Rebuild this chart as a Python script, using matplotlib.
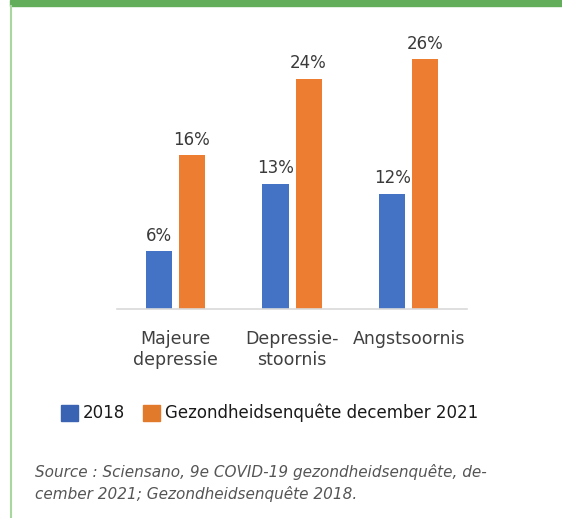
import numpy as np
import matplotlib.pyplot as plt
from matplotlib.patches import Rectangle
from matplotlib.lines import Line2D

plt.rcParams['font.family'] = ['DejaVu Sans']

categories = ['Majeure\ndepressie', 'Depressie-\nstoornis', 'Angstsoornis']
values_2018 = [6, 13, 12]
values_2021 = [16, 24, 26]
series_names = ['2018', 'Gezondheidsenquête december 2021']
source_text = ('Source : Sciensano, 9e COVID-19 gezondheidsenquête, de-\n'
               'cember 2021; Gezondheidsenquête 2018.')

blue = '#4472C4'
orange = '#ED7D31'
green = '#62AE5B'

fig = plt.figure(figsize=(5.62, 5.18), dpi=100)
ax = fig.add_axes([0.2082, 0.4035, 0.6228, 0.519])

x = np.arange(len(categories))
w = 0.223
off = 0.1416
b1 = ax.bar(x - off, values_2018, w, color=blue)
b2 = ax.bar(x + off, values_2021, w, color=orange)

for bars, vals in [(b1, values_2018), (b2, values_2021)]:
    for bar, v in zip(bars, vals):
        ax.text(bar.get_x() + bar.get_width() / 2, v + 0.7, f'{v}%',
                ha='center', va='bottom', fontsize=12, color='#3A3A3A')

ax.set_xlim(-0.5, 2.5)
ax.set_ylim(0, 28)
ax.set_yticks([])
ax.set_xticks(x)
ax.set_xticklabels(categories, fontsize=12.5, color='#404040', linespacing=1.2)
ax.tick_params(axis='x', length=0, pad=15)
for s in ['top', 'right', 'left']:
    ax.spines[s].set_visible(False)
ax.spines['bottom'].set_color('#D9D9D9')
ax.spines['bottom'].set_linewidth(1.2)

# legend drawn by hand in figure pixels
def px(xp, yp):
    return xp / 562, 1 - yp / 518

for sx, col, tx, label in [(61, '#3A63B4', 83, series_names[0]),
                           (143, '#E27A2C', 165, series_names[1])]:
    x0, y0 = px(sx, 421)
    fig.patches.append(Rectangle((x0, y0), 17 / 562, 16 / 518,
                                 transform=fig.transFigure, color=col))
    tx0, ty0 = px(tx, 413)
    fig.text(tx0, ty0, label, fontsize=12, color='#1A1A1A', va='center', ha='left')

sx0, sy0 = px(35, 483)
fig.text(sx0, sy0, source_text, fontsize=11, style='italic', color='#555555',
         va='center', ha='left', linespacing=1.4)

# green frame: thick bar on top, thin line down the left side
fig.patches.append(Rectangle((10 / 562, 1 - 6 / 518), 552 / 562, 6 / 518,
                             transform=fig.transFigure, color=green))
fig.lines.append(Line2D([11 / 562, 11 / 562], [0, 1 - 6 / 518],
                        transform=fig.transFigure, color='#A8D8A0', linewidth=1.5))

fig.savefig('out.png', dpi=100)
